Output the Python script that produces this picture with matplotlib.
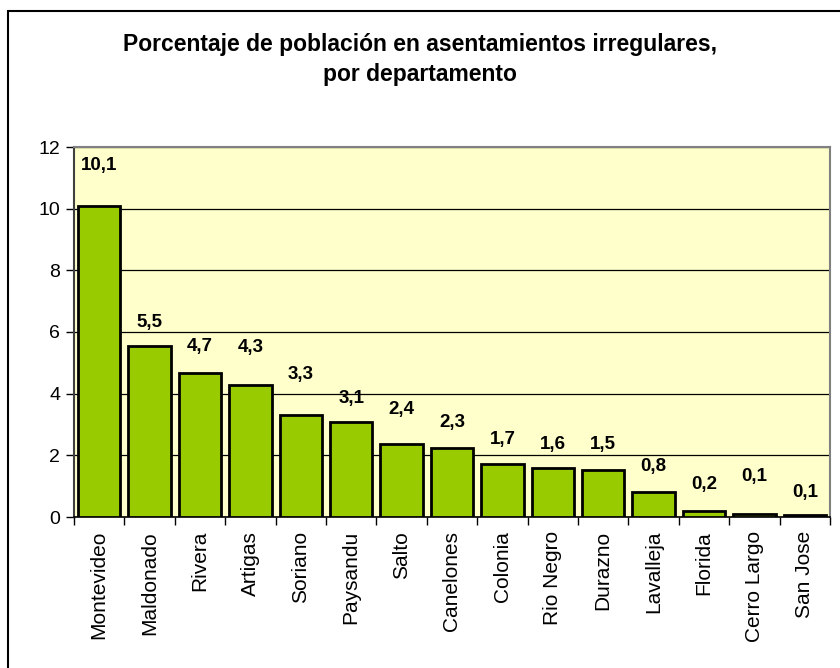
import matplotlib
matplotlib.use("Agg")
import matplotlib.pyplot as plt
from matplotlib.patches import Rectangle
import numpy as np

plt.rcParams['font.family'] = ['Liberation Sans', 'DejaVu Sans']

departamentos = ["Montevideo", "Maldonado", "Rivera", "Artigas", "Soriano", "Paysandu",
                 "Salto", "Canelones", "Colonia", "Rio Negro", "Durazno", "Lavalleja",
                 "Florida", "Cerro Largo", "San Jose"]
porcentaje = [10.08, 5.53, 4.68, 4.27, 3.32, 3.07, 2.36, 2.24, 1.72, 1.58, 1.53, 0.82,
              0.20, 0.10, 0.06]
value_labels = ["10,1", "5,5", "4,7", "4,3", "3,3", "3,1", "2,4", "2,3", "1,7", "1,6",
                "1,5", "0,8", "0,2", "0,1", "0,1"]
# vertical offset (pixels) of each value label above its bar top
label_offsets = [41, 24, 26, 38, 40, 24, 35, 25, 24, 24, 25, 25, 26, 37, 23]

fig = plt.figure(figsize=(8.4, 6.68), dpi=100)
ax = fig.add_axes([74/840, 1 - 517/668, (830 - 74)/840, (517 - 147)/668])
ax.set_facecolor('#FFFFCC')

x = np.arange(len(departamentos))
ax.bar(x, porcentaje, width=0.84, color='#99CC00', edgecolor='black',
       linewidth=2, zorder=3)

for xi, v, lab, off in zip(x, porcentaje, value_labels, label_offsets):
    ax.annotate(lab, xy=(xi, v), xytext=(0, off),
                textcoords='offset pixels', ha='center', va='center',
                fontsize=13.5, fontweight='bold', zorder=4)

ax.set_xlim(-0.5, len(departamentos) - 0.5)
ax.set_ylim(0, 12)
ax.set_yticks(np.arange(0, 13, 2))
ax.yaxis.grid(True, color='black', linewidth=0.9, zorder=1)
ax.set_axisbelow(True)

ax.set_xticks(x)
ax.set_xticklabels(departamentos, rotation=90, fontsize=15)
ax.set_xticks(np.arange(-0.5, len(departamentos), 1), minor=True)
ax.tick_params(axis='x', which='major', length=0, pad=10)
ax.tick_params(axis='x', which='minor', length=6, width=1, color='black')
ax.tick_params(axis='y', length=6, width=1, labelsize=14, pad=4, color='black')

for s in ['top', 'right']:
    ax.spines[s].set_color('#808080')
    ax.spines[s].set_linewidth(1.5)
ax.spines['left'].set_color('#404040')
ax.spines['left'].set_linewidth(1.5)
ax.spines['bottom'].set_color('black')
ax.spines['bottom'].set_linewidth(1.2)

fig.text(0.5, 1 - 45/668, "Porcentaje de población en asentamientos irregulares,",
         ha='center', va='center', fontsize=16.5, fontweight='bold')
fig.text(0.5, 1 - 74/668, "por departamento",
         ha='center', va='center', fontsize=16.5, fontweight='bold')

fig.add_artist(Rectangle((7.5/840, -0.1), 1.2, 1.1 - 11/668, transform=fig.transFigure,
                         fill=False, edgecolor='black', linewidth=1.5))

fig.savefig("out.png", dpi=100)
